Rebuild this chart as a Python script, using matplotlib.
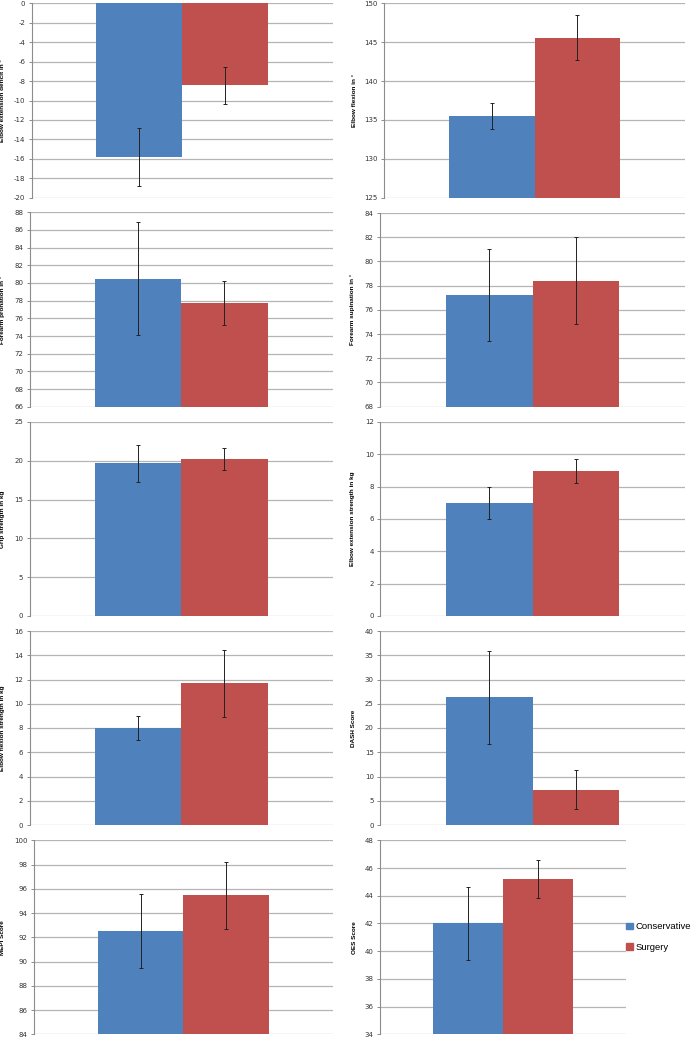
import matplotlib
matplotlib.use("Agg")
import matplotlib.pyplot as plt
from matplotlib.patches import Patch

# plain hyphen for negatives, like the original
plt.rcParams["axes.unicode_minus"] = False

# group names and colours
groups = ["Conservative", "Surgery"]
colors = ["#4F81BD", "#C0504D"]

# one entry per panel
ylabels = ["Elbow extension deficit in °", "Elbow flexion in °",
           "Forearm pronation in °", "Forearm supination in °",
           "Grip strength in kg", "Elbow extension strength in kg",
           "Elbow flexion strength in kg", "DASH Score",
           "MEPI Score", "OES Score"]
conservative = [-15.8, 135.5, 80.5, 77.2, 19.7, 7.0, 8.0, 26.3, 92.5, 42.0]
conservative_err = [3.0, 1.7, 6.35, 3.8, 2.4, 0.97, 0.95, 9.5, 3.05, 2.65]
surgery = [-8.45, 145.6, 77.7, 78.4, 20.2, 8.95, 11.7, 7.25, 95.45, 45.2]
surgery_err = [1.9, 2.95, 2.47, 3.6, 1.45, 0.74, 2.76, 4.0, 2.8, 1.38]
ymins = [-20, 125, 66, 68, 0, 0, 0, 0, 84, 34]
ymaxs = [0, 150, 88, 84, 25, 12, 16, 40, 100, 48]
ysteps = [2, 5, 2, 2, 5, 2, 2, 5, 2, 2]

W, H = 693, 1038
fig = plt.figure(figsize=(W / 100, H / 100), dpi=100)

# axes boxes in pixels: left, right, top, bottom
lefts = [31.5, 384, 29.5, 380, 29.5, 380, 29.5, 380, 33.5, 380]
rights = [333, 685, 333, 685, 333, 685, 333, 685, 333, 626]
tops = [3.3, 3.3, 212.3, 213, 422, 422, 631, 631, 840.3, 840.3]
bottoms = [197.7, 197.7, 406.7, 406.7, 616, 616, 825, 825, 1034.3, 1034.3]
label_x = [5, 357, 5, 355, 5, 355, 5, 356, 5, 357]

bw = 0.285
for i in range(10):
    l, r, t, b = lefts[i], rights[i], tops[i], bottoms[i]
    ax = fig.add_axes([l / W, 1 - b / H, (r - l) / W, (b - t) / H])
    # bars start at the axis minimum when the whole range is positive (Excel style)
    base = ymins[i] if ymins[i] > 0 else 0
    ax.bar(-bw / 2, conservative[i] - base, bw, bottom=base, color=colors[0])
    ax.bar(bw / 2, surgery[i] - base, bw, bottom=base, color=colors[1])
    ax.errorbar([-bw / 2, bw / 2], [conservative[i], surgery[i]],
                yerr=[conservative_err[i], surgery_err[i]], fmt="none",
                ecolor="#222222", elinewidth=0.7, capsize=1.6, capthick=0.7)
    ax.set_xlim(-0.5, 0.5)
    ax.set_ylim(ymins[i], ymaxs[i])
    ticks = list(range(ymins[i], ymaxs[i] + 1, ysteps[i]))
    ax.set_yticks(ticks)
    ax.set_xticks([])
    ax.grid(axis="y", color="#b5b5b5", lw=0.9)
    ax.set_axisbelow(True)
    for s in ["top", "right", "bottom"]:
        ax.spines[s].set_visible(False)
    ax.spines["left"].set_color("#8c8c8c")
    ax.spines["left"].set_linewidth(0.8)
    ax.tick_params(axis="y", labelsize=5, colors="#8c8c8c", labelcolor="#333333",
                   length=2.5, width=0.7, pad=2)
    ax.set_ylabel(ylabels[i], fontsize=4.6, fontweight="bold", family="Liberation Sans")
    ax.yaxis.set_label_coords((label_x[i] - l) / (r - l), 0.5)

handles = [Patch(color=colors[0], label=groups[0]), Patch(color=colors[1], label=groups[1])]
fig.legend(handles=handles, loc="center left", bbox_to_anchor=(626 / W, 1 - 937 / H),
           frameon=False, handlelength=0.7, handleheight=0.7,
           handletextpad=0.35, labelspacing=1.2, borderaxespad=0, borderpad=0,
           prop={"family": "Liberation Sans", "size": 6.8})

fig.savefig("out.png", dpi=100, facecolor="white")
